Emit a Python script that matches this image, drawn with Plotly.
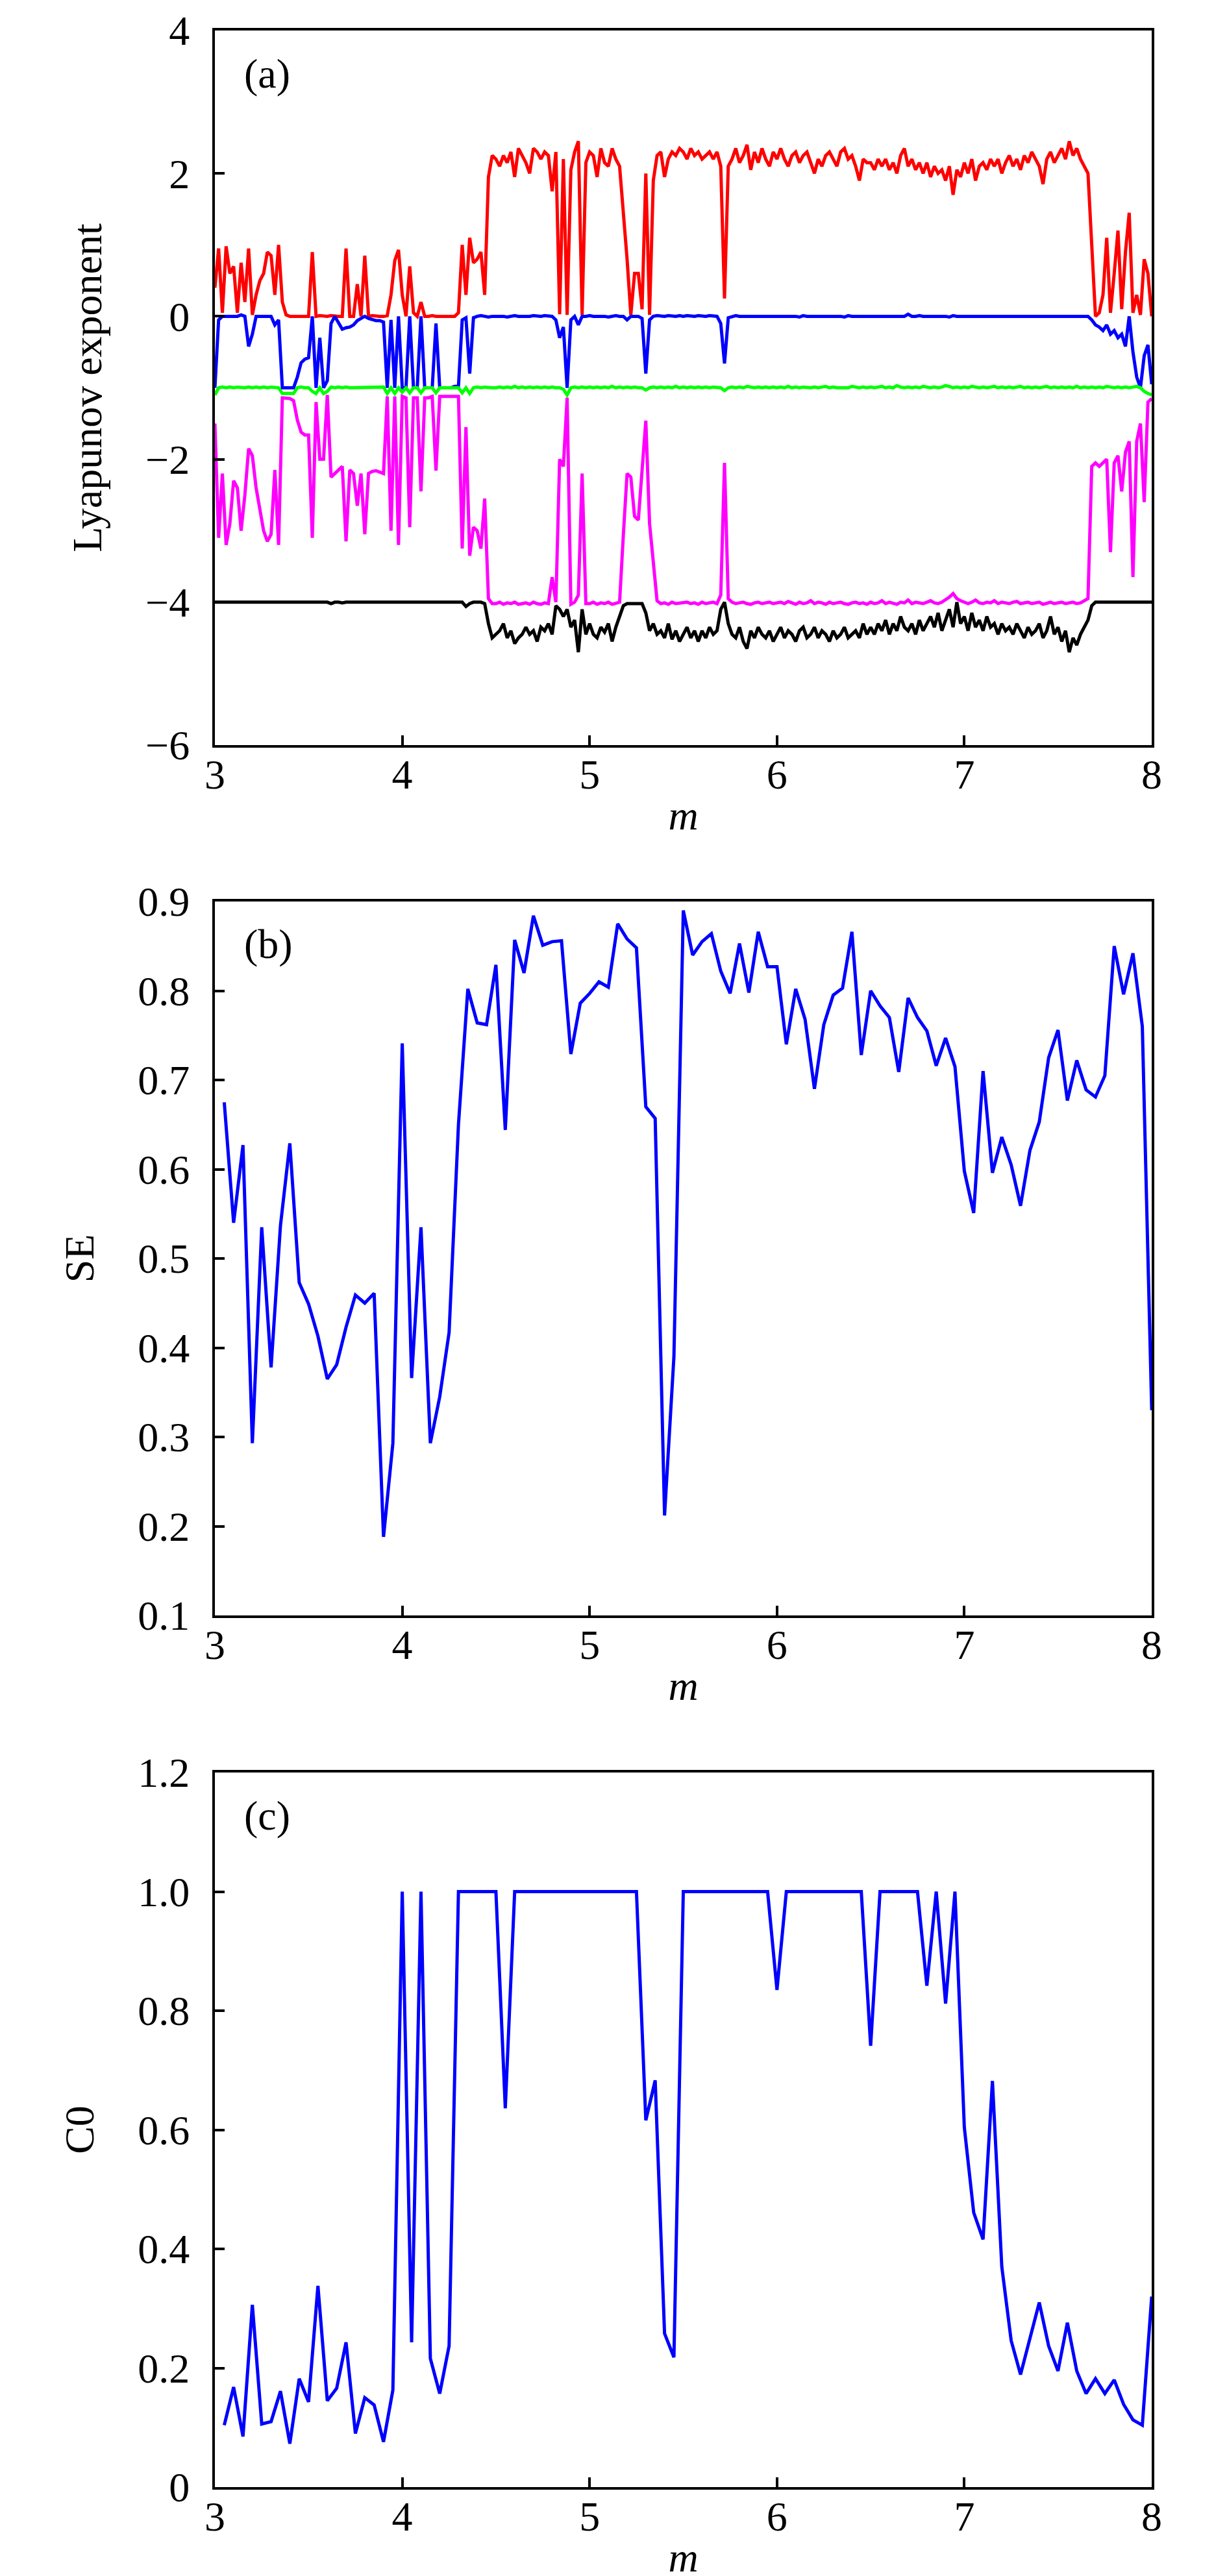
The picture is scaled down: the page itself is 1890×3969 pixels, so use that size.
import numpy as np
import plotly.graph_objects as go

# ---------------- Panel (a): Lyapunov exponents, m = 3.00 .. 8.00 step 0.02 ----------------
m_le = np.round(np.arange(3.0, 8.0001, 0.02), 2)

le1_red = [
    0.4, 0.95, 0.05, 0.98, 0.6, 0.7, 0.05, 0.75, 0.2, 0.95, 0.02, 0.3, 0.5, 0.6, 0.9, 0.85, 0.3, 1.0, 0.2, 0.02, 0.0, 0.0, 0.01, 0.0, 0.0,
    0.0, 0.9, 0.0, 0.01, 0.0, 0.0, 0.01, 0.0, 0.0, 0.0, 0.95, 0.0, 0.0, 0.45, 0.0, 0.85, 0.0, 0.01, 0.0, 0.0, 0.0, 0.01, 0.3, 0.78, 0.93,
    0.3, 0.0, 0.7, 0.05, 0.0, 0.2, 0.0, 0.0, 0.01, 0.0, 0.0, 0.0, 0.01, 0.0, 0.0, 0.05, 1.0, 0.3, 1.1, 0.75, 0.8, 0.9, 0.3, 1.95, 2.25,
    2.2, 2.1, 2.25, 2.15, 2.3, 1.95, 2.35, 2.25, 2.15, 2.0, 2.35, 2.3, 2.2, 2.3, 2.25, 1.75, 2.3, 0.03, 2.2, 0.02, 2.05, 2.3, 2.45, 0.02, 2.15,
    2.3, 2.25, 1.95, 2.35, 2.15, 2.1, 2.35, 2.2, 2.1, 1.5, 0.8, 0.02, 0.6, 0.6, 0.1, 2.0, 0.02, 1.9, 2.25, 2.3, 1.95, 2.2, 2.3, 2.25, 2.35,
    2.3, 2.2, 2.35, 2.25, 2.3, 2.2, 2.25, 2.3, 2.2, 2.3, 2.1, 0.25, 2.1, 2.2, 2.35, 2.15, 2.25, 2.4, 2.05, 2.3, 2.15, 2.35, 2.2, 2.1, 2.3,
    2.2, 2.35, 2.2, 2.1, 2.25, 2.3, 2.15, 2.25, 2.3, 2.15, 2.0, 2.2, 2.1, 2.25, 2.3, 2.2, 2.1, 2.3, 2.35, 2.2, 2.25, 2.1, 1.9, 2.2, 2.15,
    2.15, 2.05, 2.2, 2.1, 2.2, 2.05, 2.15, 2.0, 2.25, 2.35, 2.1, 2.2, 2.05, 2.15, 2.0, 2.15, 1.95, 2.1, 2.0, 2.05, 1.9, 2.1, 1.7, 2.05, 1.95,
    2.15, 2.0, 2.2, 1.9, 2.1, 2.15, 2.05, 2.2, 2.1, 2.2, 2.0, 2.15, 2.25, 2.1, 2.2, 2.05, 2.25, 2.15, 2.3, 2.2, 2.1, 1.85, 2.2, 2.3, 2.15,
    2.25, 2.35, 2.2, 2.45, 2.25, 2.35, 2.2, 2.1, 2.0, 1.0, 0.0, 0.05, 0.3, 1.1, 0.05, 0.6, 1.2, 0.1, 0.9, 1.45, 0.05, 0.3, 0.02, 0.8, 0.6,
    0.0,
]

le2_blue = [
    -1.0, -0.05, 0.0, 0.0, 0.01, 0.0, 0.0, 0.02, 0.0, -0.42, -0.25, 0.0, 0.0, 0.01, 0.0, 0.0, -0.12, -0.05, -1.0, -1.0, -1.0, -1.0, -0.85, -0.65, -0.6,
    -0.58, 0.0, -1.0, -0.3, -1.0, -0.9, -0.1, 0.0, -0.1, -0.18, -0.16, -0.15, -0.12, -0.06, -0.03, 0.0, -0.03, -0.05, -0.06, -0.06, -0.08, -1.0, -0.05, -1.0, 0.0,
    -1.0, -1.0, 0.0, -1.0, -1.0, 0.0, -1.0, -1.0, -1.0, -0.1, -1.0, -1.0, -1.0, -1.0, -0.98, -0.98, -0.05, -0.02, -0.8, -0.02, 0.0, 0.01, 0.0, -0.01, 0.0,
    0.0, 0.01, 0.0, -0.01, 0.0, 0.01, 0.0, 0.0, -0.01, 0.0, 0.01, 0.0, 0.0, 0.01, 0.0, 0.0, -0.05, -0.3, -0.15, -1.0, -0.05, 0.0, -0.12, 0.0, 0.0,
    0.01, 0.0, 0.0, 0.01, 0.0, -0.01, 0.0, 0.01, 0.0, 0.0, -0.05, 0.0, 0.0, 0.0, -0.03, -0.8, -0.05, 0.0, 0.01, 0.0, 0.0, 0.01, 0.0, 0.0, 0.01,
    0.0, 0.01, 0.0, 0.0, 0.01, 0.0, 0.0, 0.01, 0.0, 0.0, -0.1, -0.66, -0.02, 0.0, 0.01, 0.0, 0.0, 0.01, 0.0, 0.0, 0.01, 0.0, 0.0, 0.01, 0.0,
    0.0, 0.01, 0.0, 0.0, 0.01, 0.0, -0.01, 0.01, 0.0, 0.0, 0.01, 0.0, 0.0, 0.01, 0.0, 0.0, 0.01, 0.0, -0.01, 0.01, 0.0, 0.0, 0.01, 0.0, 0.0,
    0.0, 0.01, 0.0, 0.0, 0.01, 0.0, 0.0, 0.01, 0.0, 0.0, 0.03, 0.0, 0.0, 0.01, 0.0, 0.0, 0.01, 0.0, 0.0, 0.01, 0.0, -0.01, 0.01, 0.0, 0.0,
    0.0, 0.01, 0.0, 0.0, 0.01, 0.0, 0.0, 0.01, 0.0, 0.0, 0.01, 0.0, 0.0, 0.01, 0.0, 0.0, 0.01, 0.0, 0.0, 0.01, 0.0, 0.0, 0.01, 0.0, 0.0,
    0.0, 0.01, 0.0, 0.0, 0.01, 0.0, 0.0, 0.01, 0.0, -0.05, -0.12, -0.15, -0.2, -0.12, -0.25, -0.2, -0.3, -0.25, -0.42, 0.0, -0.5, -0.85, -1.0, -0.55, -0.4,
    -0.95,
]

le3_green = [
    -1.1, -1.0, -0.99, -1.0, -0.99, -1.0, -0.99, -1.0, -1.0, -0.99, -1.0, -0.99, -1.0, -0.99, -1.0, -0.99, -1.0, -1.0, -1.08, -1.08, -1.08, -1.08, -1.0, -0.99, -1.0,
    -1.0, -1.05, -1.08, -1.0, -1.08, -1.05, -0.99, -1.0, -0.99, -1.0, -0.99, -1.0, -1.0, -0.99, -1.0, -0.99, -1.0, -0.99, -1.0, -1.0, -0.99, -1.08, -1.0, -1.08, -1.0,
    -1.06, -1.0, -1.07, -1.0, -1.0, -1.07, -1.0, -1.0, -1.0, -1.07, -1.0, -1.0, -1.0, -0.99, -1.0, -1.0, -1.07, -1.0, -1.08, -1.0, -0.99, -1.0, -0.99, -1.0, -1.0,
    -1.0, -0.99, -1.0, -0.99, -1.0, -0.98, -1.0, -0.99, -1.0, -0.99, -1.0, -0.99, -1.0, -0.99, -1.0, -0.99, -1.0, -1.0, -1.02, -1.1, -1.0, -0.99, -1.0, -0.99, -1.0,
    -0.99, -1.0, -0.99, -1.0, -0.99, -1.0, -0.98, -1.0, -0.99, -1.0, -0.99, -1.0, -0.99, -1.0, -1.0, -1.03, -1.0, -0.99, -1.0, -0.99, -1.0, -0.99, -1.0, -0.98, -1.0,
    -0.99, -1.0, -0.99, -1.0, -0.99, -1.0, -0.99, -1.0, -0.99, -1.0, -1.0, -1.04, -1.0, -0.99, -1.0, -0.99, -1.0, -0.98, -0.99, -1.0, -0.99, -1.0, -0.99, -1.0, -0.99,
    -1.0, -0.99, -1.0, -0.98, -1.0, -0.99, -1.0, -0.99, -1.0, -1.0, -0.99, -1.0, -0.99, -0.98, -1.0, -0.99, -1.0, -1.0, -0.99, -1.0, -0.98, -0.99, -1.0, -0.99, -1.0,
    -0.99, -1.0, -0.99, -0.98, -1.0, -0.99, -1.0, -0.97, -0.99, -1.0, -0.99, -1.0, -0.99, -1.0, -0.98, -0.99, -1.0, -0.99, -1.0, -0.99, -0.97, -0.98, -1.0, -0.99, -1.0,
    -0.99, -1.0, -0.98, -0.99, -1.0, -0.99, -1.0, -0.99, -0.98, -1.0, -0.99, -1.0, -0.99, -1.0, -0.99, -0.98, -1.0, -0.99, -1.0, -0.99, -1.0, -0.99, -0.98, -1.0, -0.99,
    -1.0, -0.99, -1.0, -0.99, -1.0, -0.98, -1.0, -0.99, -1.0, -0.99, -1.0, -0.99, -1.0, -0.98, -0.99, -1.0, -0.99, -1.0, -0.99, -1.0, -0.99, -0.98, -1.0, -1.05, -1.08,
    -1.1,
]

le4_magenta = [
    -1.5, -3.1, -2.2, -3.2, -2.9, -2.3, -2.4, -3.0, -2.5, -1.85, -1.95, -2.4, -2.7, -3.0, -3.15, -3.05, -2.15, -3.2, -1.14, -1.14, -1.15, -1.18, -1.45, -1.62, -1.66,
    -1.66, -3.1, -1.2, -2.0, -2.0, -1.1, -2.25, -2.2, -2.15, -2.1, -3.15, -2.15, -2.2, -2.65, -2.2, -3.05, -2.2, -2.17, -2.16, -2.18, -2.2, -1.12, -3.0, -1.12, -3.2,
    -1.12, -1.14, -2.95, -1.14, -1.14, -2.45, -1.14, -1.14, -1.12, -2.16, -1.12, -1.12, -1.12, -1.12, -1.12, -1.12, -3.25, -1.55, -3.35, -2.95, -3.0, -3.25, -2.55, -3.95, -4.02,
    -4.02, -4.0, -4.03, -4.01, -4.02, -4.0, -4.03, -4.02, -4.01, -4.03, -4.0, -4.02, -4.03, -4.01, -4.02, -3.65, -4.0, -2.0, -2.1, -1.14, -4.03, -4.0, -3.9, -2.2, -4.02,
    -4.02, -4.0, -4.03, -4.01, -4.02, -4.0, -4.03, -4.02, -4.0, -3.06, -2.2, -2.25, -2.8, -2.85, -2.2, -1.46, -2.9, -3.5, -3.98, -4.02, -4.01, -4.03, -4.0, -4.02, -4.01,
    -4.01, -4.0, -4.02, -4.01, -4.03, -4.0, -4.02, -4.01, -4.0, -4.02, -3.9, -2.05, -3.95, -4.0, -4.02, -4.01, -4.0, -4.02, -4.03, -4.01, -4.0, -4.02, -4.01, -4.0, -4.02,
    -4.01, -4.0, -4.02, -3.99, -4.01, -4.03, -4.0, -4.02, -4.01, -3.98, -4.02, -4.0, -4.01, -4.03, -4.0, -4.02, -4.01, -4.0, -4.02, -4.03, -4.01, -4.0, -4.02, -4.01, -4.03,
    -4.0, -4.02, -4.01, -3.98, -4.02, -4.0, -4.01, -4.03, -4.0, -4.01, -3.97, -4.02, -4.0, -4.01, -4.02, -4.0, -3.98, -4.01, -4.02, -4.0, -3.97, -3.93, -3.88, -3.95, -3.98,
    -4.0, -4.02, -4.0, -3.97, -4.01, -4.02, -4.0, -4.01, -3.98, -4.02, -4.0, -4.01, -4.02, -4.0, -3.99, -4.02, -4.01, -4.0, -4.02, -4.01, -4.0, -4.03, -4.01, -4.0, -4.02,
    -4.01, -4.0, -4.02, -4.01, -4.0, -4.02, -4.01, -3.98, -3.95, -2.1, -2.05, -2.1, -2.05, -2.0, -3.3, -2.05, -1.95, -2.45, -1.9, -1.75, -3.65, -1.75, -1.5, -2.6, -1.2,
    -1.15,
]

le5_black = [
    -4.0, -4.0, -4.01, -4.0, -4.0, -4.01, -4.0, -4.0, -4.01, -4.0, -4.0, -4.0, -4.01, -4.0, -4.0, -4.0, -4.01, -4.0, -4.0, -4.0, -4.01, -4.0, -4.0, -4.0, -4.01,
    -4.0, -4.0, -4.01, -4.0, -4.0, -4.0, -4.02, -4.0, -4.0, -4.01, -4.0, -4.0, -4.0, -4.01, -4.0, -4.0, -4.0, -4.01, -4.0, -4.0, -4.01, -4.0, -4.0, -4.0, -4.01,
    -4.0, -4.0, -4.01, -4.0, -4.0, -4.0, -4.01, -4.0, -4.0, -4.0, -4.01, -4.0, -4.0, -4.0, -4.0, -4.01, -4.0, -4.06, -4.02, -4.0, -4.0, -4.0, -4.02, -4.3, -4.5,
    -4.45, -4.4, -4.3, -4.5, -4.4, -4.58, -4.5, -4.45, -4.35, -4.45, -4.4, -4.55, -4.35, -4.4, -4.3, -4.45, -4.05, -4.1, -4.2, -4.1, -4.35, -4.25, -4.7, -4.1, -4.45,
    -4.3, -4.45, -4.5, -4.35, -4.42, -4.3, -4.55, -4.35, -4.2, -4.05, -4.02, -4.02, -4.02, -4.02, -4.02, -4.15, -4.4, -4.3, -4.45, -4.4, -4.5, -4.3, -4.52, -4.4, -4.55,
    -4.45, -4.35, -4.5, -4.4, -4.55, -4.4, -4.5, -4.35, -4.45, -4.4, -4.1, -4.0, -4.3, -4.45, -4.5, -4.35, -4.55, -4.65, -4.4, -4.5, -4.35, -4.45, -4.5, -4.4, -4.55,
    -4.45, -4.35, -4.5, -4.4, -4.45, -4.55, -4.4, -4.35, -4.5, -4.45, -4.35, -4.5, -4.4, -4.45, -4.55, -4.4, -4.5, -4.45, -4.35, -4.5, -4.45, -4.4, -4.5, -4.3, -4.45,
    -4.35, -4.45, -4.3, -4.4, -4.25, -4.45, -4.3, -4.4, -4.2, -4.35, -4.4, -4.3, -4.45, -4.25, -4.4, -4.3, -4.2, -4.35, -4.15, -4.4, -4.25, -4.1, -4.35, -4.0, -4.3,
    -4.2, -4.4, -4.15, -4.35, -4.25, -4.4, -4.2, -4.35, -4.3, -4.45, -4.3, -4.4, -4.35, -4.45, -4.3, -4.4, -4.5, -4.35, -4.45, -4.4, -4.3, -4.5, -4.4, -4.2, -4.45,
    -4.35, -4.55, -4.4, -4.7, -4.5, -4.6, -4.45, -4.35, -4.25, -4.05, -4.0, -4.0, -4.0, -4.0, -4.0, -4.0, -4.0, -4.0, -4.0, -4.0, -4.0, -4.0, -4.0, -4.0, -4.0,
    -4.0,
]

# ---------------- Panels (b) and (c): m = 3.05 .. 8.00 step 0.05 ----------------
m_cx = np.round(np.arange(3.05, 8.0001, 0.05), 2)

se_vals = [
    0.675, 0.540, 0.627, 0.293, 0.535, 0.378, 0.537, 0.629, 0.473, 0.449,
    0.413, 0.365, 0.381, 0.423, 0.459, 0.450, 0.461, 0.188, 0.293, 0.741,
    0.366, 0.535, 0.293, 0.345, 0.417, 0.650, 0.802, 0.764, 0.762, 0.829,
    0.644, 0.857, 0.820, 0.884, 0.851, 0.855, 0.856, 0.729, 0.786, 0.797,
    0.810, 0.804, 0.875, 0.858, 0.848, 0.670, 0.657, 0.212, 0.390, 0.890,
    0.840, 0.855, 0.864, 0.822, 0.797, 0.853, 0.798, 0.866, 0.827, 0.827,
    0.740, 0.802, 0.768, 0.690, 0.762, 0.795, 0.803, 0.866, 0.728, 0.800,
    0.783, 0.770, 0.709, 0.792, 0.770, 0.755, 0.716, 0.747, 0.715, 0.598,
    0.551, 0.710, 0.596, 0.636, 0.605, 0.559, 0.621, 0.653, 0.725, 0.756,
    0.677, 0.722, 0.689, 0.681, 0.705, 0.850, 0.796, 0.842, 0.760, 0.330,
]

c0_vals = [
    0.104, 0.168, 0.085, 0.306, 0.106, 0.110, 0.161, 0.073, 0.182, 0.143,
    0.338, 0.145, 0.166, 0.243, 0.090, 0.150, 0.138, 0.076, 0.163, 1.000,
    0.243, 1.000, 0.216, 0.157, 0.237, 1.000, 1.000, 1.000, 1.000, 1.000,
    0.636, 1.000, 1.000, 1.000, 1.000, 1.000, 1.000, 1.000, 1.000, 1.000,
    1.000, 1.000, 1.000, 1.000, 1.000, 0.616, 0.683, 0.258, 0.218, 1.000,
    1.000, 1.000, 1.000, 1.000, 1.000, 1.000, 1.000, 1.000, 1.000, 0.835,
    1.000, 1.000, 1.000, 1.000, 1.000, 1.000, 1.000, 1.000, 1.000, 0.741,
    1.000, 1.000, 1.000, 1.000, 1.000, 0.842, 1.000, 0.812, 1.000, 0.604,
    0.461, 0.416, 0.682, 0.370, 0.246, 0.189, 0.250, 0.310, 0.237, 0.195,
    0.276, 0.195, 0.157, 0.182, 0.157, 0.180, 0.139, 0.113, 0.104, 0.320,
]

x_ticks = [3, 4, 5, 6, 7, 8]
le_ticks = [-6, -4, -2, 0, 2, 4]
se_ticks = [0.1, 0.2, 0.3, 0.4, 0.5, 0.6, 0.7, 0.8, 0.9]
se_ticktext = ["0.1", "0.2", "0.3", "0.4", "0.5", "0.6", "0.7", "0.8", "0.9"]
c0_ticks = [0, 0.2, 0.4, 0.6, 0.8, 1.0, 1.2]
c0_ticktext = ["0", "0.2", "0.4", "0.6", "0.8", "1.0", "1.2"]

FONT = "Liberation Serif"
FS = 64

fig = go.Figure()
lw = 5
for ys, col in [(le1_red, "#ff0000"), (le2_blue, "#0000ff"), (le3_green, "#00ff00"),
                (le4_magenta, "#ff00ff"), (le5_black, "#000000")]:
    fig.add_trace(go.Scatter(x=m_le, y=ys, mode="lines", line=dict(color=col, width=lw),
                             xaxis="x", yaxis="y", showlegend=False))
fig.add_trace(go.Scatter(x=m_cx, y=se_vals, mode="lines", line=dict(color="#0000ff", width=5),
                         xaxis="x2", yaxis="y2", showlegend=False))
fig.add_trace(go.Scatter(x=m_cx, y=c0_vals, mode="lines", line=dict(color="#0000ff", width=5),
                         xaxis="x3", yaxis="y3", showlegend=False))

H = 3969
T, B = 39, 145
ph = H - T - B

def dom(top_px, bot_px):
    return [1 - (bot_px - T) / ph, 1 - (top_px - T) / ph]

common_axis = dict(showline=True, linecolor="black", linewidth=4, mirror=True,
                   ticks="inside", ticklen=15, tickwidth=4, tickcolor="black",
                   showgrid=False, zeroline=False, automargin=False,
                   tickfont=dict(family=FONT, size=FS, color="black"))

xa = dict(common_axis, range=[3, 8], tickvals=x_ticks, ticklabelstandoff=-14,
          title=dict(text="<i>m</i>", font=dict(family=FONT, size=FS, color="black"), standoff=6))

fig.update_layout(
    width=1890, height=H,
    margin=dict(l=323, r=124, t=T, b=B),
    paper_bgcolor="white", plot_bgcolor="white",
    xaxis=dict(xa, anchor="y"),
    xaxis2=dict(xa, anchor="y2"),
    xaxis3=dict(xa, anchor="y3"),
    yaxis=dict(common_axis, domain=dom(39, 1140), range=[-6, 4], tickvals=le_ticks, anchor="x",
               ticklabelstandoff=22,
               title=dict(text="Lyapunov exponent", font=dict(family=FONT, size=FS, color="black"), standoff=48)),
    yaxis2=dict(common_axis, domain=dom(1381, 2481), range=[0.1, 0.9], tickvals=se_ticks, ticktext=se_ticktext,
                anchor="x2", ticklabelstandoff=22,
                title=dict(text="SE", font=dict(family=FONT, size=FS, color="black"), standoff=48)),
    yaxis3=dict(common_axis, domain=dom(2723, 3824), range=[0, 1.2], tickvals=c0_ticks, ticktext=c0_ticktext,
                anchor="x3", ticklabelstandoff=22,
                title=dict(text="C0", font=dict(family=FONT, size=FS, color="black"), standoff=48)),
    showlegend=False,
)

for lab, xr, yr in [("(a)", "x domain", "y domain"), ("(b)", "x2 domain", "y2 domain"), ("(c)", "x3 domain", "y3 domain")]:
    fig.add_annotation(text=lab, xref=xr, yref=yr, x=0.03, y=0.94, xanchor="left", yanchor="middle",
                       showarrow=False, font=dict(family=FONT, size=FS, color="black"))

fig.write_html("out.html")
